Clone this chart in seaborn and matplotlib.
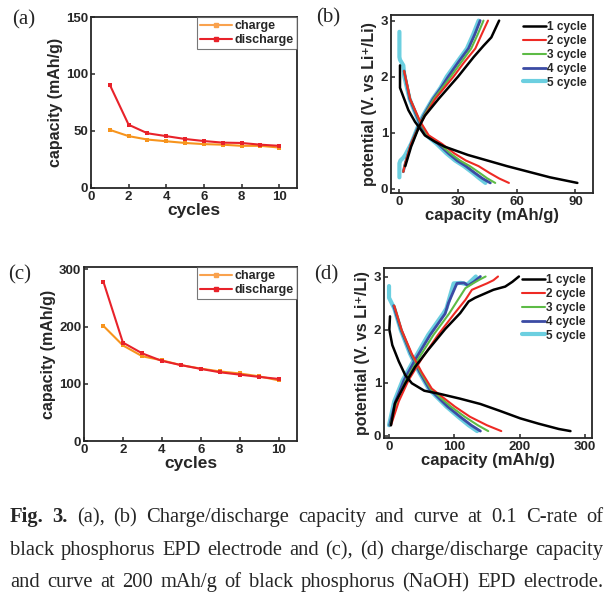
import numpy as np
import pandas as pd
import seaborn as sns
import matplotlib
matplotlib.use("Agg")
import matplotlib.pyplot as plt
from matplotlib.lines import Line2D

sns.set_style("ticks")
plt.rcParams['font.family'] = ['Liberation Sans', 'DejaVu Sans']

# ---------------- data ----------------
cycles_n = [1, 2, 3, 4, 5, 6, 7, 8, 9, 10]
a_charge = [51, 45.5, 42.5, 41, 39.5, 38.5, 38, 37, 37, 35.5]
a_discharge = [90.5, 55.5, 48, 45.5, 43, 41.2, 39.8, 39.5, 38, 37]
c_charge = [201, 167, 148, 141, 132.5, 126.5, 121.5, 118, 113, 106]
c_discharge = [278, 172, 153, 140, 132.5, 126, 120, 116, 112, 108.5]

# (b) discharge curves
b_d1_x = [0.3, 0.3, 2, 4.6, 8, 10.6, 13, 18, 23, 35, 45, 55, 66, 77, 91]
b_d1_y = [2.2, 1.8, 1.64, 1.4, 1.19, 1.07, 0.95, 0.84, 0.75, 0.6, 0.5, 0.4, 0.3, 0.2, 0.1]
b_d2_x = [2.4, 3, 5.5, 10.6, 15, 21.7, 28, 34, 40.5, 46, 51, 56]
b_d2_y = [2.1, 2.0, 1.6, 1.2, 0.95, 0.8, 0.63, 0.5, 0.4, 0.28, 0.18, 0.1]
b_d3_x = [2.4, 3, 5.5, 10.3, 14.5, 20.5, 26, 31, 36, 41, 45, 49]
b_d3_y = [2.1, 2.0, 1.6, 1.2, 0.95, 0.8, 0.63, 0.5, 0.4, 0.28, 0.18, 0.1]
b_d4_x = [2.4, 3, 5.3, 10, 14, 19.8, 25, 29.5, 34, 38.5, 42.5, 46.5]
b_d4_y = [2.1, 2.0, 1.6, 1.2, 0.95, 0.8, 0.63, 0.5, 0.4, 0.28, 0.18, 0.1]
b_d5_x = [0, 0, 0.3, 2, 2.5, 5.2, 9.8, 13.8, 19, 24, 28.5, 33, 37.5, 41, 44]
b_d5_y = [2.8, 2.35, 2.3, 2.2, 2.0, 1.6, 1.2, 0.95, 0.8, 0.63, 0.5, 0.4, 0.28, 0.18, 0.1]
# (b) charge curves
b_c1_x = [3, 6, 10, 13, 20, 30, 38, 43, 47, 49, 51]
b_c1_y = [0.4, 0.75, 1.1, 1.3, 1.6, 2.0, 2.35, 2.55, 2.7, 2.85, 3.0]
b_c2_x = [2, 3, 6, 10, 13, 18.3, 23, 27.7, 33, 38.8, 42, 45.3]
b_c2_y = [0.3, 0.45, 0.8, 1.1, 1.3, 1.6, 1.8, 2.0, 2.25, 2.5, 2.75, 3.0]
b_c3_x = [2, 3, 6, 9.8, 12.6, 17.6, 22, 26.3, 31.5, 36.7, 40, 43]
b_c3_y = [0.3, 0.45, 0.8, 1.1, 1.3, 1.6, 1.8, 2.0, 2.25, 2.5, 2.75, 3.0]
b_c4_x = [2, 3, 6, 9.6, 12.3, 17.2, 21.3, 25, 30, 35.3, 38.5, 41.3]
b_c4_y = [0.3, 0.45, 0.8, 1.1, 1.3, 1.6, 1.8, 2.0, 2.25, 2.5, 2.75, 3.0]
b_c5_x = [0, 0, 0.5, 2, 3, 6, 9.4, 12, 17, 21, 24.2, 29.3, 34.5, 37.7, 40.5]
b_c5_y = [0.2, 0.45, 0.5, 0.55, 0.6, 0.8, 1.1, 1.3, 1.6, 1.8, 2.0, 2.25, 2.5, 2.75, 3.0]

# (d) discharge curves
d_d1_x = [1.5, 0.5, 5, 15, 25, 35, 54, 78, 109, 140, 170, 201, 229, 260, 278]
d_d1_y = [2.25, 2.0, 1.71, 1.4, 1.14, 0.99, 0.85, 0.79, 0.7, 0.6, 0.47, 0.33, 0.23, 0.13, 0.09]
d_d2_x = [8, 19.5, 34.8, 50, 65.5, 81, 101, 124, 150, 172]
d_d2_y = [2.45, 1.99, 1.55, 1.2, 0.89, 0.74, 0.55, 0.36, 0.2, 0.09]
d_d3_x = [8, 19, 34, 48.5, 63.5, 77, 95, 116, 136, 152]
d_d3_y = [2.45, 1.99, 1.55, 1.2, 0.89, 0.74, 0.55, 0.36, 0.2, 0.09]
d_d4_x = [7, 18.5, 33, 47, 61.5, 74, 90, 109, 126, 140]
d_d4_y = [2.45, 1.99, 1.55, 1.2, 0.89, 0.74, 0.55, 0.36, 0.2, 0.09]
d_d5_x = [0, 0, 2, 8, 18, 32, 46, 60.5, 72.5, 88, 106, 122, 135]
d_d5_y = [2.82, 2.6, 2.55, 2.4, 1.99, 1.55, 1.2, 0.89, 0.74, 0.55, 0.36, 0.2, 0.09]
# (d) charge curves
d_c1_x = [3, 9, 25, 40, 60, 86, 109, 122, 132, 160, 178, 189, 199]
d_c1_y = [0.2, 0.61, 0.99, 1.3, 1.62, 2.01, 2.31, 2.53, 2.6, 2.75, 2.81, 2.9, 3.0]
d_c2_x = [3, 15, 30, 50, 75, 100, 117, 127, 150, 160, 167]
d_c2_y = [0.2, 0.65, 1.05, 1.45, 1.9, 2.3, 2.56, 2.75, 2.87, 2.93, 3.0]
d_c3_x = [2, 12, 26, 45, 68, 92, 105, 117, 130, 140, 148]
d_c3_y = [0.2, 0.65, 1.05, 1.45, 1.9, 2.3, 2.55, 2.78, 2.88, 2.95, 3.0]
d_c4_x = [1, 10, 23, 41, 63, 86, 91, 104, 115, 121, 130, 140]
d_c4_y = [0.2, 0.65, 1.05, 1.45, 1.9, 2.3, 2.5, 2.87, 2.88, 2.83, 2.9, 3.0]
d_c5_x = [0, 8, 21, 39, 60, 83, 88, 99, 110, 120, 127, 133]
d_c5_y = [0.2, 0.65, 1.05, 1.45, 1.9, 2.3, 2.4, 2.87, 2.88, 2.85, 2.93, 3.0]

cycle_labels = ['1 cycle', '2 cycle', '3 cycle', '4 cycle', '5 cycle']
cycle_colors = ['#000000', '#ee2a24', '#5dbb46', '#3b4ba4', '#6ccfe0']
cycle_widths = [1.8, 1.5, 1.5, 2.0, 3.0]
orange = '#f7941d'
red = '#e8222a'

caption_lines = [
    [('Fig.', True), ('3.', True), ('(a),', False), ('(b)', False), ('Charge/discharge', False),
     ('capacity', False), ('and', False), ('curve', False), ('at', False), ('0.1', False),
     ('C-rate', False), ('of', False)],
    [('black', False), ('phosphorus', False), ('EPD', False), ('electrode', False), ('and', False),
     ('(c),', False), ('(d)', False), ('charge/discharge', False), ('capacity', False)],
    [('and', False), ('curve', False), ('at', False), ('200', False), ('mAh/g', False), ('of', False),
     ('black', False), ('phosphorus', False), ('(NaOH)', False), ('EPD', False), ('electrode.', False)],
]

W, H = 615, 601
fig = plt.figure(figsize=(W / 100, H / 100), dpi=100)


def box(l, r, t, b):
    return [l / W, 1 - b / H, (r - l) / W, (b - t) / H]


def style_ax(ax):
    for s in ax.spines.values():
        s.set_linewidth(1.3)
        s.set_visible(True)
    ax.tick_params(direction='in', length=3, width=1.1, labelsize=9.5, pad=2)
    for lab in ax.get_xticklabels() + ax.get_yticklabels():
        lab.set_fontweight('bold')


def cap_panel(ax, chg, dis, ymax, yticks):
    df = pd.DataFrame({'cycles': cycles_n * 2, 'capacity': chg + dis,
                       'kind': ['charge'] * 10 + ['discharge'] * 10})
    sns.lineplot(data=df, x='cycles', y='capacity', hue='kind', style='kind',
                 palette={'charge': orange, 'discharge': red},
                 markers={'charge': 's', 'discharge': 's'}, dashes=False,
                 markersize=3.5, markeredgewidth=0, linewidth=1.5, legend=False, ax=ax)
    ax.set_xlim(0, 10.95)
    ax.set_ylim(0, ymax)
    ax.set_xticks([0, 2, 4, 6, 8, 10])
    ax.set_yticks(yticks)
    ax.set_xlabel('cycles', fontsize=12.5, fontweight='bold', labelpad=0)
    ax.set_ylabel('capacity (mAh/g)', fontsize=11.5, fontweight='bold', labelpad=2)
    handles = [Line2D([], [], color='#f9a24e', marker='s', markersize=3, lw=1.5),
               Line2D([], [], color=red, marker='s', markersize=3, lw=1.5)]
    leg = ax.legend(handles, ['charge', 'discharge'], loc='upper right', frameon=True,
                    fancybox=False, borderaxespad=0, handlelength=2.5, handletextpad=0.25,
                    labelspacing=0.15, borderpad=0.25, prop={'weight': 'bold', 'size': 9})
    leg.get_frame().set_edgecolor('#555555')
    leg.get_frame().set_linewidth(0.8)
    style_ax(ax)


def volt_panel(ax, dis_x, dis_y, chg_x, chg_y, xlim, ylim, xticks):
    rows = []
    for i in range(5):
        for branch, xs, ys in (('d', dis_x[i], dis_y[i]), ('c', chg_x[i], chg_y[i])):
            for xv, yv in zip(xs, ys):
                rows.append({'capacity': xv, 'potential': yv, 'cycle': cycle_labels[i],
                             'branch': f'{i}{branch}'})
    df = pd.DataFrame(rows)
    sns.lineplot(data=df, x='capacity', y='potential', hue='cycle', size='cycle',
                 units='branch', estimator=None, sort=False,
                 palette=dict(zip(cycle_labels, cycle_colors)),
                 sizes=dict(zip(cycle_labels, cycle_widths)),
                 hue_order=cycle_labels[::-1], size_order=cycle_labels[::-1],
                 legend=False, ax=ax)
    ax.set_xlim(*xlim)
    ax.set_ylim(*ylim)
    ax.set_xticks(xticks)
    ax.set_yticks([0, 1, 2, 3])
    ax.set_xlabel('capacity (mAh/g)', fontsize=12, fontweight='bold', labelpad=0)
    ax.set_ylabel('potential (V. vs Li\u207a/Li)', fontsize=11.5, fontweight='bold', labelpad=3,
                  family=['Liberation Sans', 'DejaVu Sans'])
    handles = [Line2D([], [], color=c, lw=w) for c, w in zip(cycle_colors, cycle_widths)]
    ax.legend(handles, cycle_labels, loc='upper right', frameon=False, borderaxespad=0.15,
              handlelength=2.0, handletextpad=0.05, labelspacing=0.15,
              prop={'weight': 'bold', 'size': 8.5})
    style_ax(ax)


ax_a = fig.add_axes(box(91, 297, 17, 188))
cap_panel(ax_a, a_charge, a_discharge, 150, [0, 50, 100, 150])

ax_b = fig.add_axes(box(391, 593, 15, 193))
volt_panel(ax_b, [b_d1_x, b_d2_x, b_d3_x, b_d4_x, b_d5_x], [b_d1_y, b_d2_y, b_d3_y, b_d4_y, b_d5_y],
           [b_c1_x, b_c2_x, b_c3_x, b_c4_x, b_c5_x], [b_c1_y, b_c2_y, b_c3_y, b_c4_y, b_c5_y],
           (-4.3, 99), (-0.08, 3.1), [0, 30, 60, 90])

ax_c = fig.add_axes(box(84, 297, 267, 441))
cap_panel(ax_c, c_charge, c_discharge, 304, [0, 100, 200, 300])

ax_d = fig.add_axes(box(384, 592, 268, 438))
volt_panel(ax_d, [d_d1_x, d_d2_x, d_d3_x, d_d4_x, d_d5_x], [d_d1_y, d_d2_y, d_d3_y, d_d4_y, d_d5_y],
           [d_c1_x, d_c2_x, d_c3_x, d_c4_x, d_c5_x], [d_c1_y, d_c2_y, d_c3_y, d_c4_y, d_c5_y],
           (-7.7, 311), (-0.04, 3.16), [0, 100, 200, 300])

# panel letters
for lab, (px, py) in zip(['(a)', '(b)', '(c)', '(d)'], [(24, 20), (328, 18), (20, 275), (326, 275)]):
    fig.text(px / W, 1 - py / H, lab, fontsize=15, family='Liberation Serif', ha='center', va='center')

# justified caption
renderer = fig.canvas.get_renderer()
x0, x1 = 10, 603
baselines = [522, 555, 587]
size = 15.5
while True:
    ok = True
    for words in caption_lines:
        tw = 0
        for w, b in words:
            t = fig.text(0, 0, w, fontsize=size, family='Liberation Serif',
                         fontweight='bold' if b else 'normal')
            tw += t.get_window_extent(renderer).width
            t.remove()
        if (x1 - x0 - tw) / (len(words) - 1) < 0.25 * size * 100 / 72:
            ok = False
    if ok:
        break
    size -= 0.25

for words, yb in zip(caption_lines, baselines):
    texts = [fig.text(0, 1 - yb / H, w, fontsize=size, family='Liberation Serif',
                      fontweight='bold' if b else 'normal', va='baseline') for w, b in words]
    widths = [t.get_window_extent(renderer).width for t in texts]
    gap = (x1 - x0 - sum(widths)) / (len(words) - 1)
    xp = x0
    for t, wd in zip(texts, widths):
        t.set_x(xp / W)
        xp += wd + gap

fig.savefig('out.png', dpi=100)
